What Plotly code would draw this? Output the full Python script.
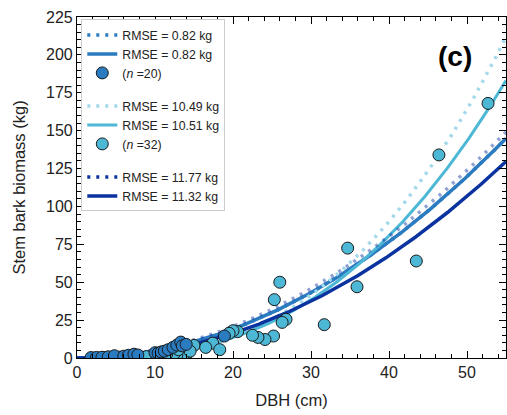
import numpy as np
import plotly.graph_objects as go

# ---- data ----
g1_dbh = [1.8, 2.5, 3.2, 4.0, 4.8, 6.0, 6.6, 7.3, 7.8, 10.0, 10.4, 10.8, 11.2, 11.7, 12.3, 12.8, 13.3, 13.5, 14.0, 18.9]
g1_bio = [0.3, 0.4, 0.5, 0.8, 1.5, 1.2, 1.8, 2.5, 2.0, 3.5, 3.2, 4.0, 4.5, 5.5, 7.0, 8.5, 10.5, 8.0, 9.0, 14.5]

g2_dbh = [52.7, 46.4, 43.5, 35.9, 34.7, 31.7, 26.0, 25.3, 26.8, 26.3, 25.2, 24.1, 23.2, 20.6, 20.0,
          17.4, 18.3, 15.0, 14.2, 13.8, 12.8, 12.5, 8.9, 13.0, 19.5, 16.5, 10.2, 11.5, 5.5, 3.5, 22.5, 14.5]
g2_bio = [168.0, 134.0, 64.0, 47.0, 72.5, 22.0, 50.0, 38.5, 25.5, 23.5, 14.5, 12.2, 13.6, 17.4, 18.0,
          9.8, 5.5, 8.3, 3.5, 3.0, 2.0, 3.2, 0.9, 5.5, 16.3, 7.0, 2.0, 2.5, 0.6, 0.3, 15.0, 4.5]

# fitted power-law models  B = a * DBH^b  (parameters estimated from the curves)
models = {
    "g1_dot":   (0.0479, 2.00),
    "g1_solid": (0.0479, 2.00),
    "g2_dot":   (209.8 / 54.8 ** 2.69, 2.69),
    "g2_solid": (181.4 / 54.8 ** 2.58, 2.58),
    "g3_dot":   (148.0 / 54.8 ** 1.95, 1.95),
    "g3_solid": (128.7 / 54.8 ** 2.05, 2.05),
}
rmse_labels = {
    "g1_dot": "RMSE = 0.82 kg", "g1_solid": "RMSE = 0.82 kg",
    "g2_dot": "RMSE = 10.49 kg", "g2_solid": "RMSE = 10.51 kg",
    "g3_dot": "RMSE = 11.77 kg", "g3_solid": "RMSE = 11.32 kg",
}
n_labels = ["(<i>n</i> =20)", "(<i>n</i> =32)"]
x_ticks = [0, 10, 20, 30, 40, 50]
y_ticks = [0, 25, 50, 75, 100, 125, 150, 175, 200, 225]
x_range = [0, 55]
y_range = [0, 225]

MED = "#2b7bc0"
LIGHT = "#4cb8d6"
LIGHT_DOT = "#a3d9ea"
NAVY = "#0b33a0"
FONT = "Liberation Sans, Arial"

xs = np.linspace(0, 55, 300)

def curve(key):
    a, b = models[key]
    return a * xs ** b

fig = go.Figure()

styles = {
    "g1_dot":   dict(color=MED, width=3.5, dash="3px,6px", group="g1", rank=1, opacity=1.0),
    "g1_solid": dict(color=MED, width=3.5, dash="solid", group="g1", rank=2, opacity=1.0),
    "g2_dot":   dict(color=LIGHT_DOT, width=3.5, dash="3px,6px", group="g2", rank=4, opacity=1.0),
    "g2_solid": dict(color=LIGHT, width=3, dash="solid", group="g2", rank=5, opacity=1.0),
    "g3_solid": dict(color=NAVY, width=3.5, dash="solid", group="g3", rank=8, opacity=1.0),
    "g3_dot":   dict(color=NAVY, width=3.5, dash="3px,6px", group="g3", rank=7, opacity=0.45),
}

for key in ["g1_dot", "g1_solid", "g2_dot", "g2_solid", "g3_solid", "g3_dot"]:
    s = styles[key]
    faded = s["opacity"] < 1
    fig.add_trace(go.Scatter(
        x=xs, y=curve(key), mode="lines", name=rmse_labels[key],
        line=dict(color=s["color"], width=s["width"], dash=s["dash"]),
        opacity=s["opacity"], legendgroup=s["group"], legendrank=s["rank"],
        showlegend=not faded,
    ))
    if faded:
        # legend proxy shown at full strength, as in the reference legend
        fig.add_trace(go.Scatter(
            x=[None], y=[None], mode="lines", name=rmse_labels[key],
            line=dict(color=s["color"], width=s["width"], dash=s["dash"]),
            legendgroup=s["group"], legendrank=s["rank"],
        ))

fig.add_trace(go.Scatter(
    x=g2_dbh, y=g2_bio, mode="markers", name=n_labels[1],
    marker=dict(size=12, color=LIGHT, line=dict(color="#1a1a1a", width=1)),
    legendgroup="g2", legendrank=6,
))
fig.add_trace(go.Scatter(
    x=g1_dbh, y=g1_bio, mode="markers", name=n_labels[0],
    marker=dict(size=12, color=MED, line=dict(color="#1a1a1a", width=1)),
    legendgroup="g1", legendrank=3,
))
# empty trace so the mirrored top/right axes get drawn
fig.add_trace(go.Scatter(x=[], y=[], xaxis="x2", yaxis="y2", showlegend=False, hoverinfo="skip"))

axis_common = dict(
    showline=True, linecolor="black", linewidth=1.2,
    ticks="inside", ticklen=7, tickwidth=1.2, tickcolor="black",
    showgrid=False, zeroline=False,
    tickfont=dict(family=FONT, size=16, color="#222"),
)

fig.update_layout(
    xaxis=dict(
        range=x_range, tickvals=x_ticks, mirror=True,
        title=dict(text="DBH (cm)", font=dict(family=FONT, size=16.5, color="#222"), standoff=14),
        minor=dict(ticks="inside", dtick=2, ticklen=4, tickcolor="black", tickwidth=1),
        **axis_common,
    ),
    yaxis=dict(
        range=y_range, tickvals=y_ticks, mirror=True,
        title=dict(text="Stem bark biomass (kg)", font=dict(family=FONT, size=16.5, color="#222"), standoff=16),
        minor=dict(ticks="inside", dtick=5, ticklen=4, tickcolor="black", tickwidth=1),
        **axis_common,
    ),
    xaxis2=dict(
        overlaying="x", side="top", range=x_range, tickvals=x_ticks, showticklabels=False,
        ticks="inside", ticklen=7, tickwidth=1.2, tickcolor="black",
        showgrid=False, zeroline=False, showline=False,
        minor=dict(ticks="inside", dtick=2, ticklen=4, tickcolor="black", tickwidth=1),
    ),
    yaxis2=dict(
        overlaying="y", side="right", range=y_range, tickvals=y_ticks, showticklabels=False,
        ticks="inside", ticklen=7, tickwidth=1.2, tickcolor="black",
        showgrid=False, zeroline=False, showline=False,
        minor=dict(ticks="inside", dtick=5, ticklen=4, tickcolor="black", tickwidth=1),
    ),
)

fig.add_annotation(
    text="<b>(c)</b>", x=0.881, y=0.883, xref="paper", yref="paper",
    xanchor="center", yanchor="middle",
    showarrow=False, font=dict(family=FONT, size=28, color="black"),
)

fig.update_layout(
    width=507, height=415,
    margin=dict(l=77, r=1, t=17, b=57),
    plot_bgcolor="white", paper_bgcolor="white",
    showlegend=True,
    legend=dict(
        x=0.01, y=0.993, xanchor="left", yanchor="top",
        bgcolor="white", bordercolor="#cccccc", borderwidth=1,
        font=dict(family=FONT, size=12.3, color="#222"),
        traceorder="grouped", tracegroupgap=14, itemwidth=30,
    ),
)

fig.write_html("out.html")
